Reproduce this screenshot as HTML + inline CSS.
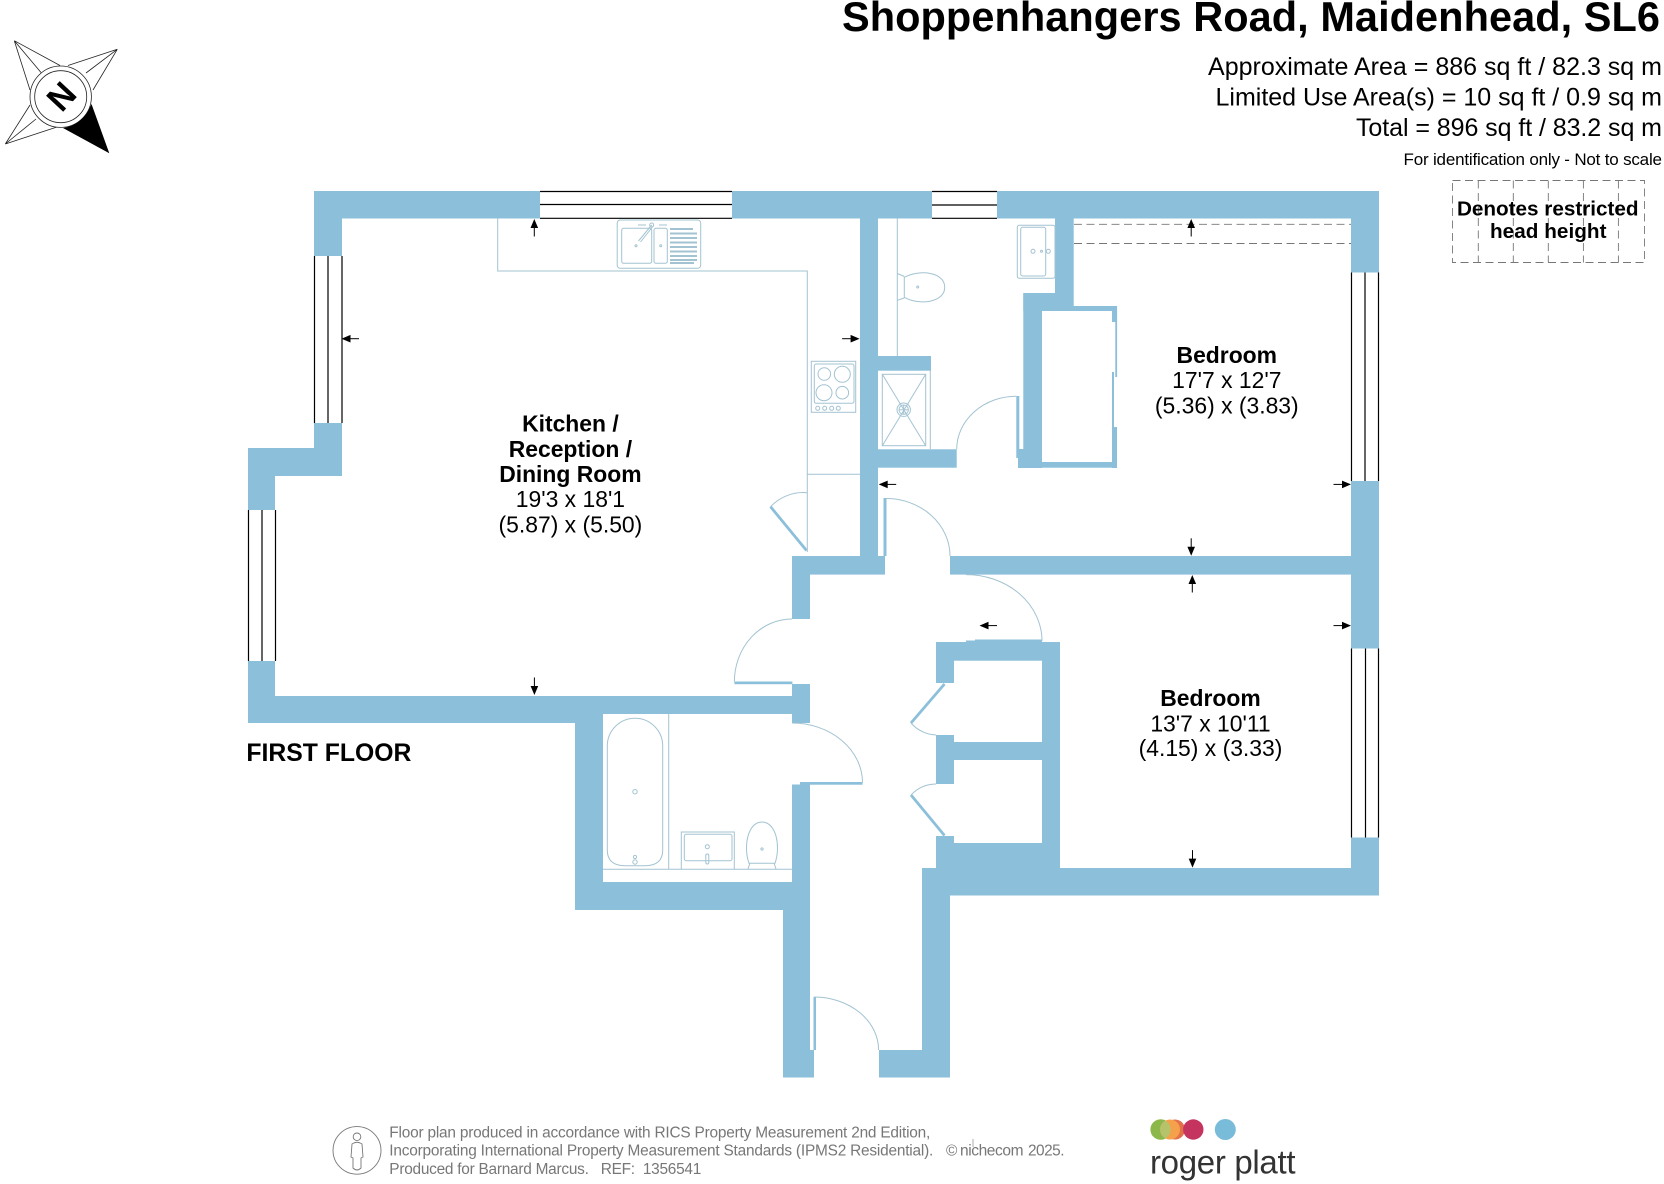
<!DOCTYPE html>
<html>
<head>
<meta charset="utf-8">
<style>
html,body{margin:0;padding:0;background:#fff;width:1664px;height:1184px;overflow:hidden}
svg{display:block}
text{font-family:"Liberation Sans",Arial,sans-serif;fill:#000}
.b{font-weight:bold}
.w rect{fill:#8bbfda}
.f *{fill:none;stroke:#a3c3d2;stroke-width:1}
.win *{stroke:#000;stroke-width:1.2}
.d{fill:none;stroke:#777;stroke-width:.9;stroke-dasharray:8 4.5}
</style>
</head>
<body>
<svg width="1664" height="1184" viewBox="0 0 1664 1184" xmlns="http://www.w3.org/2000/svg">
<defs>
<g id="a"><polygon points="0,0 -3.8,9 3.8,9" fill="#000"/><line x1="0" y1="8" x2="0" y2="17.5" stroke="#000" stroke-width="1"/></g>
</defs>

<!-- Title block -->
<text class="b" x="842" y="31" font-size="41.5" textLength="818">Shoppenhangers Road, Maidenhead, SL6</text>
<text x="1208" y="75" font-size="25" textLength="454">Approximate Area = 886 sq ft / 82.3 sq m</text>
<text x="1215.5" y="105.5" font-size="25" textLength="446.5">Limited Use Area(s) = 10 sq ft / 0.9 sq m</text>
<text x="1356" y="136" font-size="25" textLength="306">Total = 896 sq ft / 83.2 sq m</text>
<text x="1403.5" y="165" font-size="17" textLength="258.5">For identification only - Not to scale</text>

<!-- Legend -->
<g class="d">
<rect x="1452.5" y="180.5" width="192" height="82"/>
<line x1="1478.3" y1="180.5" x2="1478.3" y2="262.5"/>
<line x1="1513.3" y1="180.5" x2="1513.3" y2="262.5"/>
<line x1="1548.3" y1="180.5" x2="1548.3" y2="262.5"/>
<line x1="1583.4" y1="180.5" x2="1583.4" y2="262.5"/>
<line x1="1618.4" y1="180.5" x2="1618.4" y2="262.5"/>
</g>
<text class="b" x="1457" y="215.5" font-size="20.7" textLength="181.5">Denotes restricted</text>
<text class="b" x="1490" y="238" font-size="20.7" textLength="116.5">head height</text>

<!-- Compass -->
<g fill="none" stroke="#222" stroke-width=".8">
<path d="M14.3,40.7 L60,65.5 M14.3,40.7 L30,90 M14.3,40.7 L41,72.5"/>
<path d="M117.3,49.3 L68,65.5 M117.3,49.3 L93,90 M117.3,49.3 L86,73"/>
<path d="M5.3,144 L30,105 M5.3,144 L57,127 M5.3,144 L36,119"/>
<circle cx="60.7" cy="96.7" r="30.7" fill="#fff"/>
<circle cx="60.7" cy="96.7" r="26"/>
</g>
<path d="M91.5,104 L109.3,153.3 L63,128 Q83,125 91.5,104 Z" fill="#000"/>
<text class="b" x="0" y="0" font-size="34" text-anchor="middle" transform="translate(61,96) rotate(-47) translate(0,12.3)">N</text>

<!-- Windows -->
<g class="win">
<line x1="540" y1="191.5" x2="732" y2="191.5"/><line x1="540" y1="204.5" x2="732" y2="204.5"/><line x1="540" y1="218.3" x2="732" y2="218.3"/>
<line x1="932" y1="191.5" x2="997" y2="191.5"/><line x1="932" y1="205" x2="997" y2="205"/><line x1="932" y1="218.3" x2="997" y2="218.3"/>
<line x1="314.5" y1="256" x2="314.5" y2="423"/><line x1="328" y1="256" x2="328" y2="423"/><line x1="342" y1="256" x2="342" y2="423"/>
<line x1="248.5" y1="510" x2="248.5" y2="661"/><line x1="262" y1="510" x2="262" y2="661"/><line x1="275.5" y1="510" x2="275.5" y2="661"/>
<line x1="1351.5" y1="272.5" x2="1351.5" y2="481"/><line x1="1365" y1="272.5" x2="1365" y2="481"/><line x1="1378.5" y1="272.5" x2="1378.5" y2="481"/>
<line x1="1351.5" y1="648.5" x2="1351.5" y2="837.5"/><line x1="1365.5" y1="648.5" x2="1365.5" y2="837.5"/><line x1="1378.5" y1="648.5" x2="1378.5" y2="837.5"/>
</g>

<!-- Walls -->
<g class="w">
<rect x="314" y="191" width="226" height="27.5"/>
<rect x="732" y="191" width="200" height="27.5"/>
<rect x="997" y="191" width="382" height="27.5"/>
<rect x="314" y="191" width="28" height="65"/>
<rect x="314" y="423" width="28" height="53"/>
<rect x="248" y="448" width="94" height="28"/>
<rect x="248" y="448" width="27" height="62"/>
<rect x="248" y="661" width="27" height="62"/>
<rect x="248" y="696" width="327" height="27"/>
<rect x="575" y="696" width="235" height="18"/>
<rect x="575" y="696" width="28" height="214"/>
<rect x="575" y="882" width="235" height="28"/>
<rect x="783" y="882" width="27" height="195.5"/>
<rect x="783" y="1050" width="31" height="27.5"/>
<rect x="792" y="784.5" width="18" height="100"/>
<rect x="800" y="782" width="10" height="3"/>
<rect x="792" y="684" width="18" height="39"/>
<rect x="792" y="556" width="18" height="63"/>
<rect x="792" y="556" width="93" height="18.6"/>
<rect x="860" y="218" width="18" height="340"/>
<rect x="950" y="556" width="429" height="18.6"/>
<rect x="1351" y="191" width="28" height="81.5"/>
<rect x="1351" y="481" width="28" height="167.5"/>
<rect x="1351" y="837.5" width="28" height="58"/>
<rect x="922" y="868" width="457" height="27.5"/>
<rect x="922" y="868" width="28" height="209.5"/>
<rect x="879" y="1050" width="71" height="27.5"/>
<!-- closets -->
<rect x="936" y="642" width="124" height="18.7"/>
<rect x="1042" y="642" width="18" height="226"/>
<rect x="936" y="642" width="18" height="41"/>
<rect x="936" y="735" width="18" height="49"/>
<rect x="954" y="742" width="88" height="18"/>
<rect x="936" y="836" width="18" height="32"/>
<rect x="936" y="843" width="124" height="25"/>
<rect x="966" y="640.5" width="76" height="1.5"/>
<rect x="975" y="639.5" width="67" height="2.5"/>
<!-- ensuite / wardrobe -->
<rect x="1055" y="218" width="18.7" height="90"/>
<rect x="1023.3" y="293" width="50" height="18"/>
<rect x="1023.3" y="293" width="18.7" height="175"/>
<rect x="1073" y="306" width="44" height="5"/>
<rect x="1112" y="306" width="5" height="16"/>
<rect x="1115.3" y="306" width="1.8" height="71"/>
<rect x="1112" y="372" width="2" height="56"/>
<rect x="1112" y="427" width="5" height="41"/>
<rect x="1018" y="462" width="99" height="5.7"/>
<rect x="1018" y="449" width="6" height="19"/>
<rect x="1016.3" y="396" width="3" height="62"/>
<rect x="878" y="356" width="53" height="14.7"/>
<rect x="878" y="449.3" width="78.7" height="18.4"/>
<!-- door leaves -->
<rect x="883.5" y="498" width="3" height="58"/>
<rect x="734.4" y="681.5" width="58" height="2.7"/>
<rect x="800" y="782" width="62.5" height="2.7"/>
<rect x="813.5" y="997" width="2.5" height="53"/>
</g>
<g stroke="#8bbfda" stroke-width="2.8" fill="none">
<line x1="770.5" y1="506.7" x2="806.5" y2="550.5"/>
<line x1="944.5" y1="684" x2="911" y2="723"/>
<line x1="911" y1="795" x2="944.5" y2="835.5"/>
</g>

<!-- Door swings -->
<g class="f">
<path d="M886,498.5 A64 57.5 0 0 1 950,556"/>
<path d="M966,574.6 A76 66.4 0 0 1 1042,641"/>
<path d="M792,619 A57.6 62.5 0 0 0 734.4,681.5"/>
<path d="M792,723 A70.5 59.7 0 0 1 862.5,782.7"/>
<path d="M814,997 A64.6 53 0 0 1 878.6,1050"/>
<path d="M956.7,449.3 A59.6 53 0 0 1 1016.3,396.3"/>
<path d="M770.5,506.7 A45 45 0 0 1 807,492.7"/>
<path d="M911,723 A35 35 0 0 0 936,735"/>
<path d="M911,795 A35 35 0 0 1 936,784"/>
</g>

<!-- Kitchen fixtures -->
<g class="f">
<path d="M497.7,218.5 V271 H807.3 V552"/>
<line x1="807.3" y1="474.3" x2="860" y2="474.3"/>
<rect x="617.2" y="220" width="83.5" height="48.3" rx="3"/>
<rect x="621.7" y="228.3" width="30" height="35" rx="2"/>
<rect x="654" y="228.3" width="13.3" height="35" rx="2"/>
<path d="M651.7,225 L638.5,241 M653.2,226 L640.5,242"/>
<circle cx="636" cy="245.7" r="1"/><circle cx="660.7" cy="245.7" r="1"/>
<circle cx="651.7" cy="225" r="2"/>
<path d="M638,225 H646 M659,225 H667"/>
<path style="stroke-width:1.9" d="M670,229 H693 M670,233.5 H697 M670,238 H697 M670,242.5 H697 M670,247 H697 M670,251.5 H697 M670,256 H697 M670,260 H697 M670,263 H694"/>
<!-- hob -->
<rect x="811.3" y="361.3" width="44.4" height="51"/>
<rect x="814.3" y="364" width="39.7" height="39.3" rx="2"/>
<circle cx="824.3" cy="374" r="6.3"/><circle cx="842.3" cy="374.3" r="8"/>
<circle cx="824" cy="392.7" r="8"/><circle cx="842.3" cy="392.7" r="6.3"/>
<circle cx="817.7" cy="408.3" r="2"/><circle cx="824.7" cy="408.3" r="2"/><circle cx="831.7" cy="408.3" r="2"/><circle cx="838.3" cy="408.3" r="2"/>
<!-- ensuite -->
<line x1="897.3" y1="218.5" x2="897.3" y2="356"/>
<path d="M904.3,277.3 V297.3 C920,306 945,302 944.7,287.3 C944.7,272 920,269 904.3,277.3 Z"/>
<path d="M897.3,273.5 L904.3,276.5 M897.3,300.3 L904.3,298"/>
<circle cx="917.7" cy="287" r="1"/>
<rect x="1017.3" y="225.3" width="37.7" height="53" rx="2"/>
<rect x="1020.7" y="227.3" width="25" height="48.7" rx="2"/>
<circle cx="1033" cy="251.3" r="2"/><circle cx="1048.3" cy="251.3" r="2"/><circle cx="1041.5" cy="251.3" r="1"/>
<!-- shower -->
<line x1="930.3" y1="370" x2="930.3" y2="449"/>
<rect x="882.3" y="374.3" width="43.4" height="71.4"/>
<path d="M882.3,374.3 L925.7,445.7 M925.7,374.3 L882.3,445.7"/>
<circle cx="903.7" cy="409.7" r="6.7" fill="#fff"/>
<circle cx="903.7" cy="409.7" r="4.7"/>
<path d="M903.7,405 V414.4 M899,409.7 H908.4"/>
<!-- bathroom -->
<path d="M607.3,746 A27.7 27.7 0 0 1 662.7,746 V850 Q662.7,865.7 645,865.7 H625 Q607.3,865.7 607.3,850 Z"/>
<path d="M668.7,714 V869.3 M603,869.3 H792"/>
<circle cx="635" cy="791.7" r="2.2"/>
<circle cx="635" cy="857" r="1.6"/><circle cx="635" cy="862" r="2.2"/>
<path d="M681.3,869 V832 H734.3 V869"/>
<rect x="684.3" y="834.3" width="47.7" height="26.4" rx="2"/>
<circle cx="707.3" cy="846.7" r="2"/><rect x="705.8" y="854" width="3" height="10" rx="1.5"/>
<path d="M749,863.3 C743,846 748,822 762,822 C776,822 781,846 775,863.3 Z"/>
<path d="M748,869 L750,863 M774,863 L776,869"/>
<circle cx="762" cy="849" r="1.1"/>
</g>

<!-- Restricted height dashes -->
<g class="d">
<line x1="1074" y1="224.3" x2="1351" y2="224.3"/>
<line x1="1074" y1="243.5" x2="1351" y2="243.5"/>
</g>

<!-- Arrows -->
<use href="#a" transform="translate(534.3,219)"/>
<use href="#a" transform="translate(1191.2,219)"/>
<use href="#a" transform="translate(1192.3,575)"/>
<use href="#a" transform="translate(341.5,338.7) rotate(-90)"/>
<use href="#a" transform="translate(878.7,484.4) rotate(-90)"/>
<use href="#a" transform="translate(979.5,625.6) rotate(-90)"/>
<use href="#a" transform="translate(859.6,338.7) rotate(90)"/>
<use href="#a" transform="translate(1351,484.4) rotate(90)"/>
<use href="#a" transform="translate(1351,625.6) rotate(90)"/>
<use href="#a" transform="translate(1191.2,555.8) rotate(180)"/>
<use href="#a" transform="translate(1192.5,867.6) rotate(180)"/>
<use href="#a" transform="translate(534.4,695) rotate(180)"/>

<!-- Room labels -->
<g font-size="22.9" text-anchor="middle">
<text class="b" x="570.4" y="431.6">Kitchen /</text>
<text class="b" x="570.4" y="456.8">Reception /</text>
<text class="b" x="570.4" y="481.8">Dining Room</text>
<text x="570.4" y="507">19'3 x 18'1</text>
<text x="570.4" y="532.4">(5.87) x (5.50)</text>
<text class="b" x="1226.8" y="363.2">Bedroom</text>
<text x="1226.8" y="388">17'7 x 12'7</text>
<text x="1226.8" y="413.4">(5.36) x (3.83)</text>
<text class="b" x="1210.5" y="706">Bedroom</text>
<text x="1210.5" y="731.3">13'7 x 10'11</text>
<text x="1210.5" y="756.2">(4.15) x (3.33)</text>
</g>
<text class="b" x="246.4" y="760.8" font-size="24.75" textLength="165">FIRST FLOOR</text>

<!-- Footer -->
<g fill="none" stroke="#777" stroke-width=".9">
<ellipse cx="357" cy="1150.4" rx="24" ry="23.8"/>
<circle cx="357" cy="1136.8" r="3.8"/>
<path d="M352,1144 Q357,1140.5 362,1144 L363,1157 L361,1158 V1168 Q357,1172 353,1168 V1158 L351,1157 Z"/>
<line x1="973" y1="1139" x2="973" y2="1147" stroke-width=".6"/>
</g>
<g font-size="15.4">
<text style="fill:#777" x="389.3" y="1137.6" textLength="541">Floor plan produced in accordance with RICS Property Measurement 2nd Edition,</text>
<text style="fill:#777" x="389.3" y="1155.3" textLength="544">Incorporating International Property Measurement Standards (IPMS2 Residential).</text>
<text style="fill:#777;white-space:pre" x="389.3" y="1174.2" xml:space="preserve" textLength="312">Produced for Barnard Marcus.   REF:  1356541</text>
<text style="fill:#777" x="946" y="1155.3" textLength="11">©</text>
<text style="fill:#777" x="960" y="1155.3" textLength="63.5" font-size="15.5">nichecom</text>
<text style="fill:#777" x="1028" y="1155.3" textLength="36.5">2025.</text>
</g>

<!-- Logo -->
<circle cx="1160.7" cy="1129.5" r="10.3" fill="#8cb74a"/>
<circle cx="1175" cy="1129.5" r="10" fill="#e2704a"/>
<circle cx="1170" cy="1129.5" r="10" fill="#f5a04a"/>
<path d="M1165.5,1120.6 A10 10 0 0 0 1165.5,1138.4 A10.3 10.3 0 0 0 1165.5,1120.6 Z" fill="#b5c46a"/>
<circle cx="1193.3" cy="1129.5" r="10.2" fill="#c4345f"/>
<circle cx="1225.3" cy="1129.5" r="10.5" fill="#79bcd9"/>
<text x="1150" y="1173.3" font-size="33" textLength="145.5" style="fill:#333">roger platt</text>
</svg>
</body>
</html>
